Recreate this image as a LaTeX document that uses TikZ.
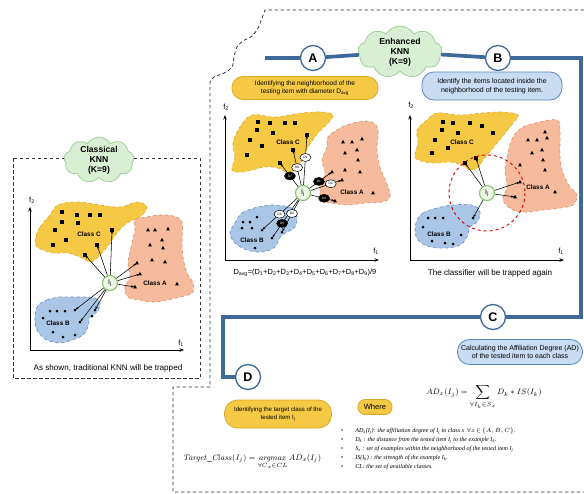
\documentclass[tikz,border=0pt]{standalone}
\usepackage[no-math]{fontspec}
\setmainfont{Liberation Sans}
\newfontfamily\tnr{Liberation Serif}
\usetikzlibrary{shapes.symbols,shapes.geometric,arrows.meta,backgrounds}
\definecolor{ylw}{HTML}{F6C944}
\definecolor{ylwd}{HTML}{D9A82A}
\definecolor{org}{HTML}{F5BB9C}
\definecolor{orgd}{HTML}{D88A62}
\definecolor{blu}{HTML}{A9C6E6}
\definecolor{blud}{HTML}{5A8AC6}
\definecolor{navy}{HTML}{3E6A9B}
\definecolor{pillb}{HTML}{C9DCF1}
\definecolor{pillbd}{HTML}{5A86BE}
\definecolor{grn}{HTML}{D9EFD4}
\definecolor{grnd}{HTML}{A3CE9C}
\definecolor{ijf}{HTML}{EEF8E6}
\definecolor{ijd}{HTML}{86C46E}
\definecolor{frm}{HTML}{333333}
\begin{document}
\begin{tikzpicture}[x=1pt,y=-1pt,
  blobC/.style={fill=ylw, draw=ylwd, dashed, line width=0.6pt},
  blobA/.style={fill=org, draw=orgd, dashed, line width=0.6pt},
  blobB/.style={fill=blu, draw=blud, dashed, line width=0.6pt},
  frame/.style={draw=frm, line width=0.8pt, dash pattern=on 3.5pt off 2.5pt},
  pillY/.style={draw=ylwd, fill=ylw, rounded corners=11pt, line width=0.8pt, align=center, font=\fontsize{6.5}{8.2}\selectfont, inner sep=2pt},
  pillB/.style={draw=pillbd, fill=pillb, rounded corners=12pt, line width=0.8pt, align=center, font=\fontsize{7}{8.4}\selectfont, inner sep=2pt},
  letter/.style={circle, draw=navy, line width=1.3pt, fill=white, minimum size=25pt, inner sep=0pt, font=\bfseries\fontsize{12.5}{12.5}\selectfont},
  knncloud/.style={cloud, cloud puffs=9, cloud puff arc=120, cloud ignores aspect, draw=grnd, fill=grn, line width=0.8pt, align=center, font=\bfseries\fontsize{8.6}{9.8}\selectfont, inner sep=-6pt},
  ij/.style={circle, draw=ijd, fill=ijf, line width=1.1pt, minimum size=15pt, inner sep=0pt, font=\fontsize{7}{7}\selectfont},
  dlabw/.style={ellipse, draw=black, fill=white, line width=0.5pt, minimum width=11pt, minimum height=8pt, inner sep=0pt, font=\fontsize{3.2}{3.2}\selectfont},
  dlabb/.style={dlabw, fill=black, text=white},
  arr/.style={-{Stealth[length=3pt,width=2.4pt]}, line width=0.55pt, shorten >=0.8pt},
  axis/.style={-{Stealth[length=4.5pt,width=3.5pt]}, line width=0.9pt},
  cls/.style={font=\bfseries\fontsize{6.4}{7}\selectfont},
  captxt/.style={font=\fontsize{8.1}{9}\selectfont},
  axl/.style={font=\fontsize{7.5}{7.5}\selectfont}
]
\useasboundingbox (0,0) rectangle (584,493);

% ===== outer dashed frame =====
\draw[frame] (584,10) -- (265,10) -- plot[smooth, tension=0.6] coordinates {(265,10) (262,18) (258,28) (252,36) (243,41) (237,47) (234,57) (232,67) (224,73) (214,77) (210,82)} -- (210,387) -- (173,387) -- (173,492) -- (584,492);

% ===== Left panel: classical KNN =====
\draw[frame] (13,158) rectangle (200,378);
\node[knncloud, minimum width=70pt, minimum height=46pt] (knn1) at (99,160) {Classical\\KNN\\(K=9)};

\draw[blobC] plot[smooth cycle, tension=0.6] coordinates {(35,240)(40,227)(50,215)(58,205)(77,202)(100,205)(120,207)(137,202)(147,207)(140,217)(127,223)(117,233)(107,247)(97,258)(90,262)(80,257)(67,253)(53,253)(43,250)(37,247)};
\draw[blobA] plot[smooth cycle, tension=0.6] coordinates {(135,220)(147,217)(160,215)(173,216)(182,222)(182,240)(183,257)(187,273)(193,283)(192,293)(180,297)(167,300)(153,302)(140,300)(128,297)(125,287)(130,277)(128,263)(132,243)(135,230)};
\draw[blobB] plot[smooth cycle, tension=0.6] coordinates {(37,307)(47,300)(60,297)(73,297)(87,297)(95,298)(100,303)(97,312)(90,317)(88,327)(83,335)(72,340)(60,343)(47,340)(38,332)(35,322)};

\foreach \x/\y in {62/212,77/215,90/215,100/215,62/222,78/223,55/230,66/240,112/230,53/245,85/255,97/245}
  \fill (\x-1.6,\y-1.6) rectangle ++(3.2,3.2);
\foreach \x/\y in {148/230,155/230,168/229,162/240,150/245,163/248,152/260,165/262,137/263,140/274,135/287,177/284}
  \fill (\x,\y-2.2) -- (\x+1.9,\y+1.3) -- (\x-1.9,\y+1.3) -- cycle;
\foreach \x/\y in {50/311,57/311,65/311,75/310,43/318,53/332,63/337,75/335,80/322,95/310,92/316}
  \fill (\x,\y) circle (1.5);

\node[cls] (lC) at (89,234) {Class C};
\node[cls] (lA) at (155,283) {Class A};
\node[cls] (lB) at (58,323) {Class B};

\draw[axis] (30,350) -- (30,207);
\draw[axis] (30,350) -- (184,350);
\node[axl] (lf2) at (32,200) {f\textsubscript{2}};
\node[axl] (lf1) at (181,343) {f\textsubscript{1}};

\node[ij] (IjL) at (110,283) {I\textsubscript{j}};
\foreach \x/\y [count=\i] in {112/230,97/245,85/255,137/263,140/274,135/287,75/310,80/322,95/310}{
  \coordinate (pL\i) at (\x,\y);
  \draw[arr] (IjL) -- (pL\i);
}
\node[captxt] (capL) at (108,368) {As shown, traditional KNN will be trapped};

% ===== Thick path and stage markers =====
\node[knncloud, minimum width=84pt, minimum height=52pt] (knn2) at (400,52) {Enhanced\\KNN\\(K=9)};
\node[letter] (A) at (313,58) {A};
\node[letter] (B) at (498,58) {B};
\node[letter] (C) at (493,317) {C};
\node[letter] (D) at (248,377) {D};
\coordinate (s0) at (265,58);
\coordinate (s1) at (581,58);
\coordinate (s2) at (581,317);
\coordinate (s3) at (223,317);
\coordinate (s4) at (223,377);
\begin{scope}[on background layer]
\draw[navy, line width=3.7pt, line join=miter] (s0) -- (A) -- (knn2) -- (B) -- (s1) -- (s2) -- (C) -- (s3) -- (s4) -- (D);
\end{scope}

% ===== Middle panel (A) =====
\node[pillY, minimum width=146pt, minimum height=23pt] (pA) at (305,88) {Identifying the neighborhood of the\\testing item with diameter D\textsubscript{avg}};

\draw[blobC] plot[smooth cycle, tension=0.6] coordinates {(232,170)(235,157)(233,143)(240,127)(252,115)(275,117)(302,113)(322,112)(333,115)(328,123)(318,133)(308,147)(302,160)(295,170)(288,173)(278,168)(265,167)(252,170)(242,172)};
\draw[blobA] plot[smooth cycle, tension=0.6] coordinates {(328,137)(342,127)(358,122)(372,122)(378,130)(377,150)(380,167)(388,187)(390,197)(382,202)(365,203)(348,205)(332,203)(322,200)(320,187)(325,173)(322,160)(327,147)};
\draw[blobB] plot[smooth cycle, tension=0.6] coordinates {(235,223)(242,213)(258,207)(275,205)(292,208)(297,215)(295,227)(287,232)(280,237)(275,247)(262,252)(247,250)(235,243)(230,233)};

\foreach \x/\y in {258/122,270/123,285/123,295/123,257/130,273/133,250/140,262/146,247/155,307/135,293/150,280/163}
  \fill (\x-1.6,\y-1.6) rectangle ++(3.2,3.2);
\foreach \x/\y in {343/142,352/142,362/139,345/153,357/150,358/160,345/170,360/172,332/172,342/180,373/193,335/201}
  \fill (\x,\y-2.2) -- (\x+1.9,\y+1.3) -- (\x-1.9,\y+1.3) -- cycle;
\foreach \x/\y in {243/222,250/222,257/217,242/228,252/228,255/248,262/230,272/238,282/232}
  \fill (\x,\y) circle (1.5);

\node[cls] (mC) at (288,142) {Class C};
\node[cls] (mA) at (352,192) {Class A};
\node[cls] (mB) at (252,240) {Class B};

\draw[axis] (225,260) -- (225,115);
\draw[axis] (225,260) -- (379,260);
\node[axl] (mf2) at (226,107) {f\textsubscript{2}};
\node[axl] (mf1) at (376,251) {f\textsubscript{1}};

\node[ij] (IjM) at (303,193) {I\textsubscript{j}};
\coordinate (m9) at (307,135);
\coordinate (m8) at (293,150);
\coordinate (m7) at (280,163);
\coordinate (m1) at (332,172);
\coordinate (m2) at (342,180);
\coordinate (m3) at (335,201);
\coordinate (m6) at (262,230);
\coordinate (m5) at (272,238);
\coordinate (m4) at (282,232);
\draw[arr] (IjM) -- node[dlabw, pos=0.55]{D9} (m9);
\draw[arr] (IjM) -- node[dlabw, pos=0.5]{D8} (m8);
\draw[arr] (IjM) -- node[dlabb, pos=0.45]{D7} (m7);
\draw[arr] (IjM) -- node[dlabb, pos=0.42]{D1} (m1);
\draw[arr] (IjM) -- node[dlabw, pos=0.64]{D2} (m2);
\draw[arr] (IjM) -- node[dlabb, pos=0.55]{D3} (m3);
\draw[arr] (IjM) -- node[dlabw, pos=0.5]{D6} (m6);
\draw[arr] (IjM) -- node[dlabb, pos=0.62]{D5} (m5);
\draw[arr] (IjM) -- node[dlabw, pos=0.42]{D4} (m4);

\node[font=\fontsize{7.4}{8}\selectfont] (davg) at (305,273) {D\textsubscript{avg}=(D\textsubscript{1}+D\textsubscript{2}+D\textsubscript{3}+D\textsubscript{4}+D\textsubscript{5}+D\textsubscript{6}+D\textsubscript{7}+D\textsubscript{8}+D\textsubscript{9})/9};

% ===== Right panel (B) =====
\node[pillB, minimum width=140pt, minimum height=28pt] (pB) at (492,86) {Identify the items located inside the\\neighborhood of the testing item.};

\draw[blobC] plot[smooth cycle, tension=0.6] coordinates {(415,157)(418,143)(417,130)(427,120)(437,113)(460,115)(483,113)(503,112)(518,115)(513,123)(502,137)(493,148)(483,160)(478,168)(470,170)(462,165)(450,162)(437,163)(425,162)};
\draw[blobA] plot[smooth cycle, tension=0.6] coordinates {(513,137)(523,127)(540,122)(557,120)(560,130)(560,157)(563,173)(570,187)(577,195)(573,205)(560,208)(543,210)(527,212)(513,210)(503,200)(507,187)(505,170)(508,153)};
\draw[blobB] plot[smooth cycle, tension=0.6] coordinates {(417,220)(423,213)(437,208)(453,205)(472,205)(480,212)(477,222)(470,227)(467,237)(460,245)(447,248)(430,247)(418,240)(415,230)};

\foreach \x/\y in {443/122,453/123,470/123,482/126,442/130,458/133,435/140,493/133,448/148,432/153,465/163,476/158}
  \fill (\x-1.6,\y-1.6) rectangle ++(3.2,3.2);
\foreach \x/\y in {545/132,528/140,537/140,547/138,532/153,542/150,543/160,545/170,520/165,520/182,515/197,555/192}
  \fill (\x,\y-2.2) -- (\x+1.9,\y+1.3) -- (\x-1.9,\y+1.3) -- cycle;
\foreach \x/\y in {428/218,435/218,443/218,423/227,461/235,432/241,445/243,453/244,473/218}
  \fill (\x,\y) circle (1.5);

\node[cls] (rC) at (462,142) {Class C};
\node[cls] (rA) at (538,187) {Class A};
\node[cls] (rB) at (439,234) {Class B};

\draw[axis] (410,260) -- (410,115);
\draw[axis] (410,260) -- (564,260);
\node[axl] (rf2) at (411,105) {f\textsubscript{2}};
\node[axl] (rf1) at (561,251) {f\textsubscript{1}};

\node[ij] (IjR) at (487,193) {I\textsubscript{j}};
\draw[red!85!black, dashed, line width=0.9pt] (IjR) circle (38);
\foreach \x/\y [count=\i] in {465/163,476/158,520/182,515/197,473/218}{
  \coordinate (pR\i) at (\x,\y);
  \draw[arr] (IjR) -- (pR\i);
}
\node[captxt] (capR) at (490,273) {The classifier will be trapped again};

% ===== C =====
\node[pillB, minimum width=125pt, minimum height=25pt] (pC) at (520,352) {Calculating the Affiliation Degree (AD)\\of the tested item to each class};
\node[font=\fontsize{8}{9}\selectfont] (fAD) at (484,397) {$\displaystyle AD_x(I_j) = \sum_{\forall I_k\in S_x} D_k * IS(I_k)$};

% ===== D =====
\node[pillY, minimum width=107pt, minimum height=28pt, rounded corners=13pt, font=\fontsize{6.1}{8}\selectfont] (pD) at (278,414) {Identifying the target class of the\\tested item I\textsubscript{j}};
\node[font=\fontsize{8}{9}\selectfont] (fT) at (252,462) {$\mathit{Target\_Class}(I_j) = \mathop{\mathit{argmax}}\limits_{\forall C_x\in CL} AD_x(I_j)$};

\node[pillY, minimum width=34pt, minimum height=15pt, rounded corners=7pt, inner sep=1pt, font=\fontsize{7.6}{8}\selectfont] (where) at (375,407) {Where};

\node[anchor=north west, align=left, font=\tnr\itshape\fontsize{6.1}{9}\selectfont, inner sep=0pt] (list) at (341,428) {%
\textup{\textbullet}\hspace{12pt}AD\textsubscript{x}(I\textsubscript{j}): the affiliation degree of I\textsubscript{j} to class x \,$\forall x\!\in\!\{A, B, C\}$.\\
\textup{\textbullet}\hspace{12pt}D\textsubscript{k} : the distance from the tested item I\textsubscript{j} to the example I\textsubscript{k}.\\
\textup{\textbullet}\hspace{12pt}S\textsubscript{x} : set of examples within the neighborhood of the tested item I\textsubscript{j}\\
\textup{\textbullet}\hspace{12pt}IS(I\textsubscript{k}) : the strength of the example I\textsubscript{k}.\\
\textup{\textbullet}\hspace{12pt}CL: the set of available classes.};
\end{tikzpicture}
\end{document}
